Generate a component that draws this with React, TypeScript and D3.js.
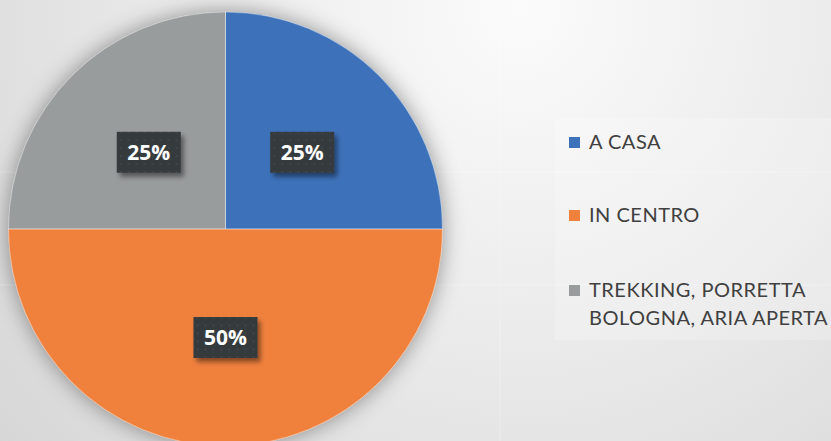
import React from "react";
import * as d3 from "d3";

const categories = ["A CASA", "IN CENTRO", "TREKKING, PORRETTA BOLOGNA, ARIA APERTA"];
const legendLines = [["A CASA"], ["IN CENTRO"], ["TREKKING, PORRETTA", "BOLOGNA, ARIA APERTA"]];
const values = [25, 50, 25];
const labels = ["25%", "50%", "25%"];
const colors = ["#3C72BA", "#F0813C", "#999C9D"];

const W = 831;
const H = 441;

export default function App() {
  const cx = 225.5;
  const cy = 229;
  const r = 217;
  const pie = d3.pie<number>().sort(null).value((d) => d)(values);
  const arc = d3.arc<d3.PieArcDatum<number>>().innerRadius(0).outerRadius(r);
  const boxW = 64;
  const boxH = 41;
  const legendX = 569;
  const legendRows = [149, 222, 297];
  return (
    <svg width={W} height={H} style={{ position: "absolute", left: 0, top: 0 }}>
      <defs>
        <radialGradient id="bg" cx="520" cy="10" r="720" gradientUnits="userSpaceOnUse">
          <stop offset="0" stopColor="#fbfbfb" />
          <stop offset="0.45" stopColor="#ebebeb" />
          <stop offset="1" stopColor="#d4d4d4" />
        </radialGradient>
        <filter id="pieShadow" x="-20%" y="-20%" width="140%" height="140%">
          <feDropShadow dx="0" dy="0" stdDeviation="11" floodColor="#000" floodOpacity="0.4" />
        </filter>
        <filter id="boxShadow" x="-30%" y="-30%" width="160%" height="170%">
          <feDropShadow dx="3" dy="4" stdDeviation="2.5" floodColor="#000" floodOpacity="0.45" />
        </filter>
        <pattern id="dots" width="8" height="8" patternUnits="userSpaceOnUse">
          <rect width="8" height="8" fill="#363a3e" />
          <rect x="3" y="3" width="1.6" height="1.6" fill="#464a4e" />
        </pattern>
      </defs>
      <rect width={W} height={H} fill="url(#bg)" />
      <line x1={0} x2={W} y1={172} y2={172} stroke="#ffffff" strokeOpacity={0.35} />
      <line x1={0} x2={W} y1={285} y2={285} stroke="#ffffff" strokeOpacity={0.3} />
      <line x1={500} x2={500} y1={0} y2={H} stroke="#ffffff" strokeOpacity={0.3} />
      <rect x={555} y={118} width={W - 555} height={222} fill="#ffffff" fillOpacity={0.2} />
      <g transform={`translate(${cx},${cy})`}>
        <g filter="url(#pieShadow)">
          {pie.map((p, i) => (
            <path key={categories[i]} d={arc(p) || ""} fill={colors[i]} />
          ))}
        </g>
        {pie.map((p, i) => (
          <path key={"s" + i} d={arc(p) || ""} fill="none" stroke="#ffffff" strokeOpacity={0.35} strokeWidth={1} />
        ))}
        {pie.map((p, i) => {
          const [x, y] = arc.centroid(p);
          return (
            <g key={"l" + i} transform={`translate(${x},${y})`}>
              <rect x={-boxW / 2} y={-boxH / 2} width={boxW} height={boxH} fill="url(#dots)" filter="url(#boxShadow)" />
              <text
                x={0}
                y={7.5}
                textAnchor="middle"
                fill="#ffffff"
                fontFamily="'Open Sans', sans-serif"
                fontWeight="bold"
                fontSize={21}
              >
                {labels[i]}
              </text>
            </g>
          );
        })}
      </g>
      {legendLines.map((lines, i) => (
        <g key={"lg" + i}>
          <rect x={legendX} y={legendRows[i] - 12} width={11} height={11} fill={colors[i]} />
          {lines.map((ln, j) => (
            <text
              key={j}
              x={legendX + 20}
              y={legendRows[i] + j * 28}
              fill="#404040"
              fontFamily="Lato, sans-serif"
              fontSize={20}
              letterSpacing={0.5}
            >
              {ln}
            </text>
          ))}
        </g>
      ))}
    </svg>
  );
}
